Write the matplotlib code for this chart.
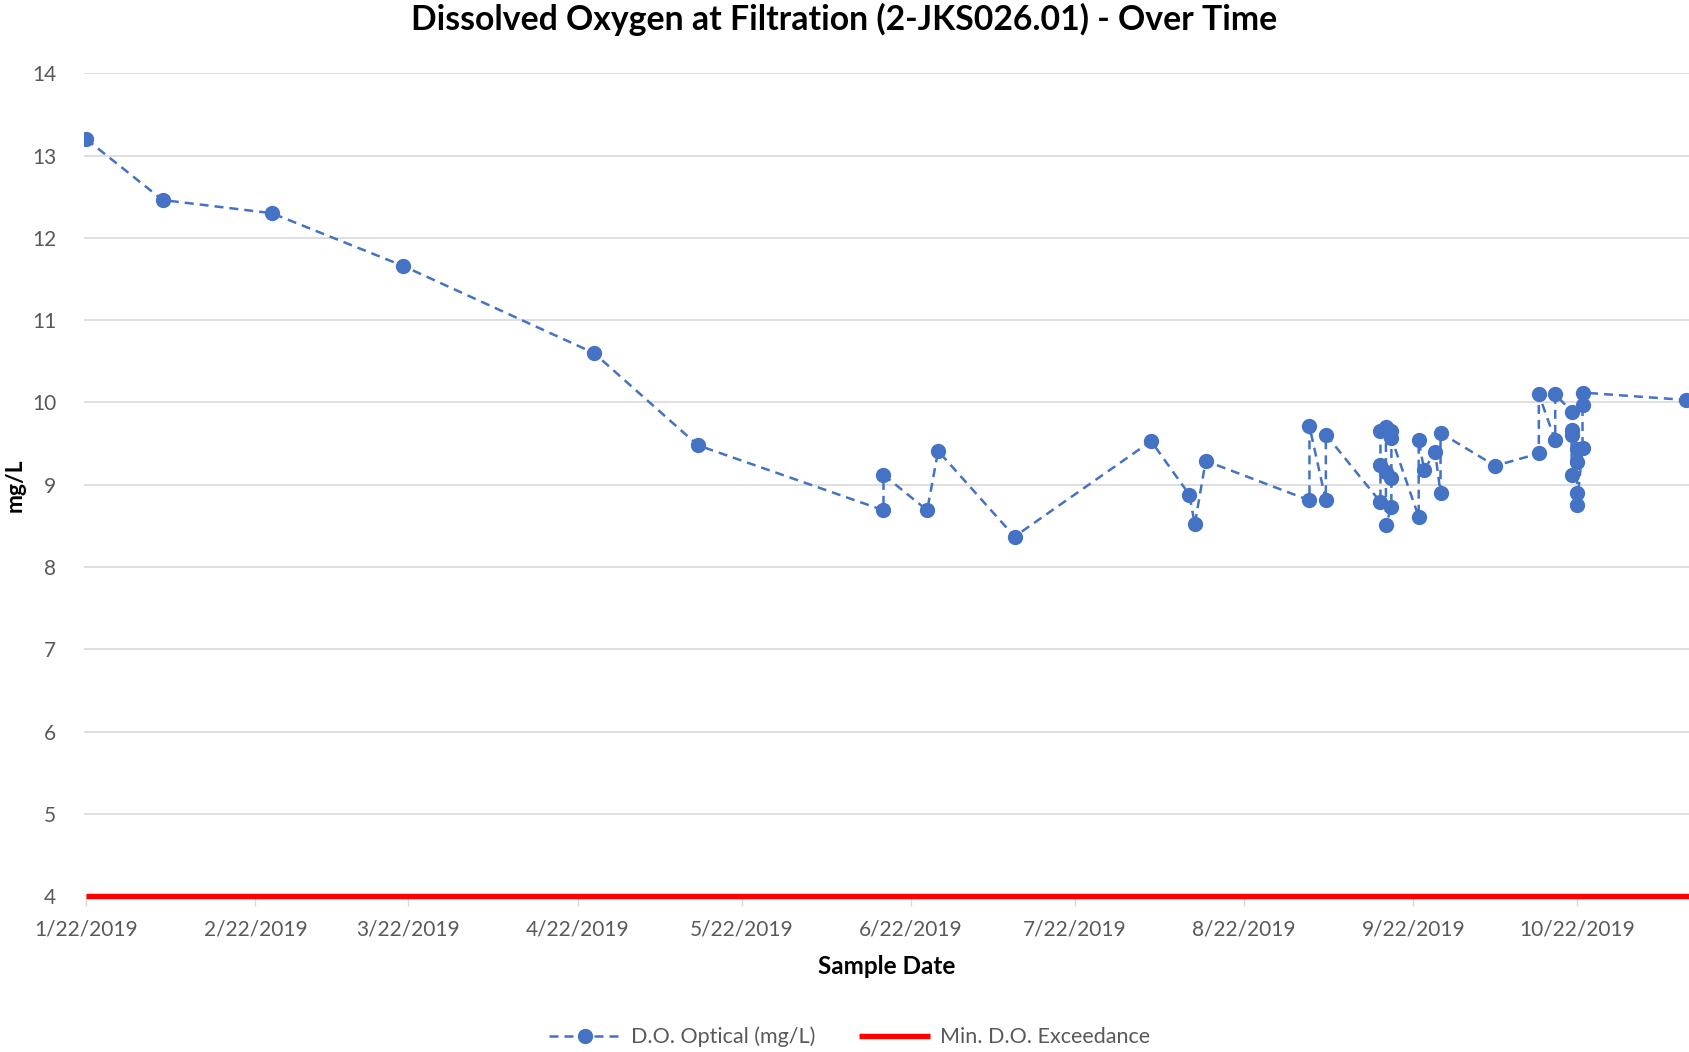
import matplotlib
matplotlib.use("Agg")
import matplotlib.pyplot as plt
import numpy as np
import pandas as pd

# ---- data ----
sample_dates = [
    "2019-01-22", "2019-02-05", "2019-02-25", "2019-03-21", "2019-04-25", "2019-05-14",
    "2019-06-17", "2019-06-17", "2019-06-25", "2019-06-27", "2019-07-11",
    "2019-08-05", "2019-08-12", "2019-08-13", "2019-08-15",
    "2019-09-03", "2019-09-03", "2019-09-06", "2019-09-06",
    "2019-09-16", "2019-09-16", "2019-09-16",
    "2019-09-17", "2019-09-17", "2019-09-17",
    "2019-09-18", "2019-09-18", "2019-09-18", "2019-09-18",
    "2019-09-23", "2019-09-23", "2019-09-24", "2019-09-26", "2019-09-27", "2019-09-27",
    "2019-10-07",
    "2019-10-15", "2019-10-15", "2019-10-18", "2019-10-18",
    "2019-10-21", "2019-10-21", "2019-10-21", "2019-10-21",
    "2019-10-22", "2019-10-22", "2019-10-22", "2019-10-22",
    "2019-10-23", "2019-10-23", "2019-10-23",
    "2019-11-11",
]
do_optical = [
    13.20, 12.46, 12.30, 11.66, 10.60, 9.48,
    8.69, 9.12, 8.69, 9.41, 8.37,
    9.53, 8.88, 8.52, 9.29,
    8.81, 9.71, 8.81, 9.61,
    8.79, 9.24, 9.65,
    9.70, 9.16, 8.51,
    8.73, 9.08, 9.65, 9.57,
    8.61, 9.54, 9.18, 9.40, 8.90, 9.63,
    9.23,
    9.38, 10.10, 9.54, 10.10,
    9.89, 9.67, 9.60, 9.12,
    9.44, 9.28, 8.90, 8.75,
    9.45, 9.97, 10.12,
    10.03,
]
min_do_dates = ["2019-01-22", "2019-11-30"]
min_do_values = [4, 4]

tick_dates = ["2019-01-22", "2019-02-22", "2019-03-22", "2019-04-22", "2019-05-22",
              "2019-06-22", "2019-07-22", "2019-08-22", "2019-09-22", "2019-10-22"]
tick_labels = ["1/22/2019", "2/22/2019", "3/22/2019", "4/22/2019", "5/22/2019",
               "6/22/2019", "7/22/2019", "8/22/2019", "9/22/2019", "10/22/2019"]
y_ticks = [4, 5, 6, 7, 8, 9, 10, 11, 12, 13, 14]

title = "Dissolved Oxygen at Filtration (2-JKS026.01) - Over Time"
x_label = "Sample Date"
y_label = "mg/L"
series_names = ["D.O. Optical (mg/L)", "Min. D.O. Exceedance"]

# ---- plot ----
plt.rcParams['font.family'] = ['Lato', 'DejaVu Sans']

W, H = 1689, 1052
fig = plt.figure(figsize=(W / 100, H / 100), dpi=100)
left_px, right_px = 84, 1689
top_px, bot_px = 73.3, 896.2
ax = fig.add_axes([left_px / W, 1 - bot_px / H, (right_px - left_px) / W, (bot_px - top_px) / H])

x = pd.to_datetime(sample_dates)
x_min = pd.to_datetime(min_do_dates)

ax.plot(x, do_optical, color="#4472C4", linestyle=(0, (3.6, 2.4)), linewidth=1.8,
        marker="o", markersize=10, markerfacecolor="#4472C4", markeredgecolor="#4472C4",
        label=series_names[0], zorder=3)
ax.plot(x_min, min_do_values, color="#FF0000", linewidth=3.9, solid_capstyle="butt",
        label=series_names[1], zorder=4, clip_on=False)

x0 = pd.Timestamp("2019-01-22") - pd.Timedelta(days=0.4)
x1 = pd.Timestamp("2019-01-22") + pd.Timedelta(days=293.5)
ax.set_xlim(x0, x1)
ax.set_ylim(4, 14)

ax.set_yticks(y_ticks)
ax.set_yticklabels([str(v) for v in y_ticks])
ax.set_xticks(pd.to_datetime(tick_dates))
ax.set_xticklabels(tick_labels)

ax.grid(axis="y", color="#D9D9D9", linewidth=1.2)
ax.set_axisbelow(True)
for s in ax.spines.values():
    s.set_visible(False)

ax.tick_params(axis="y", length=0, pad=20, labelsize=15, labelcolor="#595959")
ax.tick_params(axis="x", length=7, width=1, color="#D9D9D9", pad=10, labelsize=15,
               labelcolor="#595959")

fig.text((left_px + right_px) / 2 / W, 1 - 967 / H, x_label, ha="center", va="center",
         fontsize=17.5, fontweight="bold", color="black")
fig.text(15 / W, 1 - 485 / H, y_label, ha="center", va="center", rotation=90,
         fontsize=16.5, fontweight="bold", color="black")
fig.text(844 / W, 1 - 19 / H, title, ha="center", va="center",
         fontsize=24.3, fontweight="bold", color="black")

leg = fig.legend(loc="center", bbox_to_anchor=(850 / W, 1 - 1037 / H), ncol=2, frameon=False,
                 fontsize=15.5, handlelength=3.3, handletextpad=0.5, columnspacing=2.0)
for t in leg.get_texts():
    t.set_color("#595959")

fig.savefig("out.png", dpi=100)
